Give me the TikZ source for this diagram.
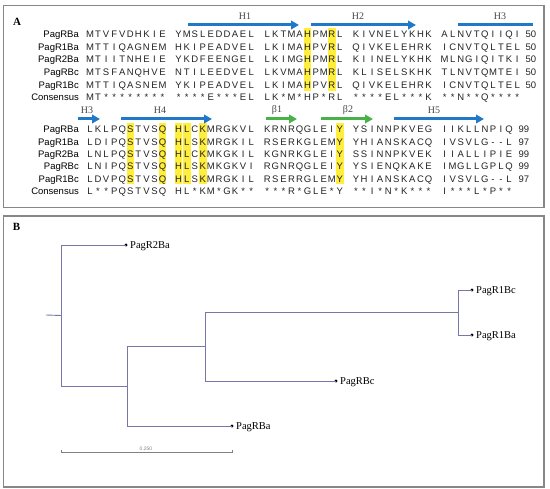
\documentclass[tikz,border=0pt]{standalone}
\usepackage{fontspec}
\setmainfont{Liberation Serif}
\newfontfamily\seqfont{Liberation Sans}
\usetikzlibrary{arrows.meta}

\definecolor{hlyellow}{RGB}{255,238,60}
\definecolor{hblue}{RGB}{32,120,200}
\definecolor{bgreen}{RGB}{72,178,72}
\definecolor{treeline}{RGB}{120,120,168}
\definecolor{boxgrey}{RGB}{135,135,135}
\definecolor{seqtext}{RGB}{35,35,35}
\definecolor{sslabel}{RGB}{70,70,70}

\newcount\seqcol
\def\seqloop#1{\ifx#1\relax\else\ifx#1/\global\advance\seqcol by 1\relax\else\node[seqch] (c\rowid-\the\seqcol) at ({90+8.06*\the\seqcol},\rowY) {#1};\global\advance\seqcol by 1\relax\fi\expandafter\seqloop\fi}
\newcommand\seqrow[3]{\global\seqcol=0\relax\def\rowid{#1}\def\rowY{#2}\seqloop#3\relax}

\begin{document}
\begin{tikzpicture}[x=1pt,y=-1pt,
  seqch/.style={anchor=base, inner sep=0pt, font=\seqfont\fontsize{9.5}{10}\selectfont, text=seqtext},
  rowname/.style={anchor=base east, inner sep=0pt, font=\seqfont\fontsize{9.5}{10}\selectfont, text=black},
  numlab/.style={anchor=base west, inner sep=0pt, font=\seqfont\fontsize{9.5}{10}\selectfont, text=seqtext},
  sslab/.style={inner sep=0pt, font=\fontsize{10}{11}\selectfont, text=sslabel},
  helix/.style={draw=hblue, line width=3pt, -{Triangle[length=8pt,width=8.5pt]}},
  helixbar/.style={draw=hblue, line width=3pt},
  strand/.style={draw=bgreen, line width=3pt, -{Triangle[length=8pt,width=8.5pt]}},
  hl/.style={fill=hlyellow},
  panelbox/.style={draw=boxgrey, line width=1.2pt},
  panellab/.style={inner sep=0pt, font=\bfseries\fontsize{11}{12}\selectfont},
  branch/.style={draw=treeline, line width=0.9pt},
  leaf/.style={anchor=base west, inner sep=0pt, font=\fontsize{10.5}{12}\selectfont},
  leafdot/.style={circle, fill=black, inner sep=0pt, minimum size=3.2pt},
  scalebar/.style={draw=gray, line width=0.7pt},
  scalelab/.style={inner sep=0pt, font=\seqfont\fontsize{5}{6}\selectfont, text=gray}
]
\useasboundingbox (0,0) rectangle (550,489);

% ---------- panel boxes ----------
\draw[panelbox] (3.5,5.5) rectangle (544,207.5);
\draw[panelbox] (3.5,216) rectangle (544,487);
\node[panellab] (labA) at (17,21.5) {A};
\node[panellab] (labB) at (16.5,226.5) {B};

% ---------- highlights ----------
\foreach \k in {27,30} \fill[hl] ({90+8.06*\k-3.8},28.5) rectangle ({90+8.06*\k+3.8},91);
\foreach \k in {5,9,11,12,14,31} \fill[hl] ({90+8.06*\k-3.8},123.5) rectangle ({90+8.06*\k+3.8},184.5);

% ---------- secondary structure, block 1 ----------
\coordinate (h1a) at (188,25); \coordinate (h1b) at (299,25);
\coordinate (h2a) at (311,25); \coordinate (h2b) at (416,25);
\coordinate (h3a) at (458,25); \coordinate (h3b) at (533,25);
\draw[helix] (h1a) -- (h1b);
\draw[helix] (h2a) -- (h2b);
\draw[helixbar] (h3a) -- (h3b);
\node[sslab] (tH1) at (245,16.5) {H1};
\node[sslab] (tH2) at (358,16.5) {H2};
\node[sslab] (tH3a) at (500,16.5) {H3};

% ---------- block 1 ----------
\node[rowname] (nRBa1) at (79,37.7) {PagRBa};
\node[rowname] (nR1Ba1) at (79,50.4) {PagR1Ba};
\node[rowname] (nR2Ba1) at (79,63.0) {PagR2Ba};
\node[rowname] (nRBc1) at (79,75.7) {PagRBc};
\node[rowname] (nR1Bc1) at (79,88.4) {PagR1Bc};
\node[rowname] (nCon1) at (79,101.0) {Consensus};
\seqrow{a1}{37.7}{MTVFVDHKIE/YMSLEDDAEL/LKTMAHPMRL/KIVNELYKHK/ALNVTQIIQI}
\seqrow{b1}{50.4}{MTTIQAGNEM/HKIPEADVEL/LKIMAHPVRL/QIVKELEHRK/ICNVTQLTEL}
\seqrow{c1}{63.0}{MTIITNHEIE/YKDFEENGEL/LKIMGHPMRL/KIINELYKHK/MLNGIQITKI}
\seqrow{d1}{75.7}{MTSFANQHVE/NTILEEDVEL/LKVMAHPMRL/KLISELSKHK/TLNVTQMTEI}
\seqrow{e1}{88.4}{MTTIQASNEM/YKIPEADVEL/LKIMAHPVRL/QIVKELEHRK/ICNVTQLTEL}
\seqrow{f1}{101.0}{MT********/****E***EL/LK*M*HP*RL/****EL***K/**N**Q****}
\node[numlab] (num1a) at (525.5,37.7) {50};
\node[numlab] (num1b) at (525.5,50.4) {50};
\node[numlab] (num1c) at (525.5,63.0) {50};
\node[numlab] (num1d) at (525.5,75.7) {50};
\node[numlab] (num1e) at (525.5,88.4) {50};

% ---------- secondary structure, block 2 ----------
\coordinate (h3c) at (78,119); \coordinate (h3d) at (100,119);
\coordinate (h4a) at (121,119); \coordinate (h4b) at (212,119);
\coordinate (b1a) at (266,119); \coordinate (b1b) at (297,119);
\coordinate (b2a) at (321,119); \coordinate (b2b) at (373,119);
\coordinate (h5a) at (394,119); \coordinate (h5b) at (484,119);
\draw[helix] (h3c) -- (h3d);
\draw[helix] (h4a) -- (h4b);
\draw[strand] (b1a) -- (b1b);
\draw[strand] (b2a) -- (b2b);
\draw[helix] (h5a) -- (h5b);
\node[sslab] (tH3b) at (87,110) {H3};
\node[sslab] (tH4) at (160,110) {H4};
\node[sslab] (tb1) at (277,110) {β1};
\node[sslab] (tb2) at (348,110) {β2};
\node[sslab] (tH5) at (434,110) {H5};

% ---------- block 2 ----------
\node[rowname] (nRBa2) at (79,132.9) {PagRBa};
\node[rowname] (nR1Ba2) at (79,145.2) {PagR1Ba};
\node[rowname] (nR2Ba2) at (79,157.5) {PagR2Ba};
\node[rowname] (nRBc2) at (79,169.8) {PagRBc};
\node[rowname] (nR1Bc2) at (79,182.1) {PagR1Bc};
\node[rowname] (nCon2) at (79,194.8) {Consensus};
\seqrow{a2}{132.9}{LKLPQSTVSQ/HLCKMRGKVL/KRNRQGLEIY/YSINNPKVEG/IIKLLNPIQ}
\seqrow{b2}{145.2}{LDIPQSTVSQ/HLSKMRGKIL/RSERKGLEMY/YHIANSKACQ/IVSVLG--L}
\seqrow{c2}{157.5}{LNLPQSTVSQ/HLCKMKGKIL/KGNRKGLEIY/SSINNPKVEK/IIALLIPIE}
\seqrow{d2}{169.8}{LNIPQSTVSQ/HLSKMKGKVI/RGNRQGLEIY/YSIENQKAKE/IMGLLGPLQ}
\seqrow{e2}{182.1}{LDVPQSTVSQ/HLSKMRGKIL/RSERRGLEMY/YHIANSKACQ/IVSVLG--L}
\seqrow{f2}{194.8}{L**PQSTVSQ/HL*KM*GK**/***R*GLE*Y/**I*N*K***/I***L*P**}
\node[numlab] (num2a) at (518.5,132.9) {99};
\node[numlab] (num2b) at (518.5,145.2) {97};
\node[numlab] (num2c) at (518.5,157.5) {99};
\node[numlab] (num2d) at (518.5,169.8) {99};
\node[numlab] (num2e) at (518.5,182.1) {97};

% ---------- tree ----------
\coordinate (root) at (46,315);
\coordinate (n0) at (61,315.5);
\coordinate (n1) at (127,386);
\coordinate (n2) at (205,346);
\coordinate (n3) at (458,312.5);
\node[leafdot] (dR2Ba) at (126,245) {};
\node[leafdot] (dRBa) at (232,426) {};
\node[leafdot] (dRBc) at (336,381) {};
\node[leafdot] (dR1Bc) at (472,290) {};
\node[leafdot] (dR1Ba) at (472,335) {};
\draw[branch] (root) -- (n0);
\draw[branch] (n0) |- (dR2Ba.center);
\draw[branch] (n0) |- (n1);
\draw[branch] (n1) |- (dRBa.center);
\draw[branch] (n1) |- (n2);
\draw[branch] (n2) |- (dRBc.center);
\draw[branch] (n2) |- (n3);
\draw[branch] (n3) |- (dR1Bc.center);
\draw[branch] (n3) |- (dR1Ba.center);
\node[leaf] (lR2Ba) at (130,248.6) {PagR2Ba};
\node[leaf] (lRBa) at (236,429.6) {PagRBa};
\node[leaf] (lRBc) at (340,384.6) {PagRBc};
\node[leaf] (lR1Bc) at (476,293.6) {PagR1Bc};
\node[leaf] (lR1Ba) at (476,338.6) {PagR1Ba};

% ---------- scale bar ----------
\coordinate (sb1) at (61,452);
\coordinate (sb2) at (232,452);
\draw[scalebar] (sb1) -- (sb2);
\draw[scalebar] ([yshift=-1.5pt]sb1) -- ([yshift=1.5pt]sb1);
\draw[scalebar] ([yshift=-1.5pt]sb2) -- ([yshift=1.5pt]sb2);
\node[scalelab] (sblab) at (146,448.5) {0.250};
\end{tikzpicture}
\end{document}
